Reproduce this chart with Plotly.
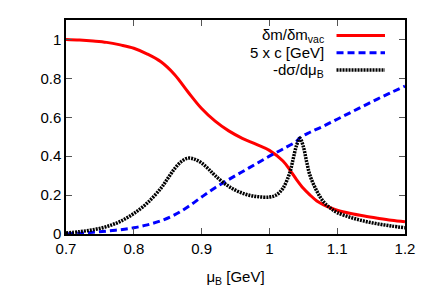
import plotly.graph_objects as go

# mu_B [GeV] grid and the three curves
mu_red = [0.70, 0.72, 0.74, 0.76, 0.78, 0.80, 0.82, 0.84, 0.86, 0.88, 0.90, 0.92,
          0.94, 0.96, 0.98, 1.00, 1.02, 1.03, 1.04, 1.05, 1.06, 1.07, 1.08, 1.09,
          1.10, 1.12, 1.14, 1.16, 1.18, 1.20]
dm_ratio = [1.000, 0.997, 0.992, 0.985, 0.972, 0.955, 0.925, 0.885, 0.820, 0.730,
            0.645, 0.580, 0.530, 0.492, 0.462, 0.430, 0.375, 0.330, 0.280, 0.235,
            0.200, 0.170, 0.150, 0.135, 0.122, 0.105, 0.092, 0.081, 0.071, 0.063]

mu_blue = [0.70, 0.72, 0.74, 0.76, 0.78, 0.80, 0.82, 0.84, 0.86, 0.88, 0.90, 0.92,
           0.94, 0.96, 0.98, 1.00, 1.02, 1.04, 1.045, 1.06, 1.08, 1.10, 1.12, 1.14,
           1.16, 1.18, 1.20]
five_c = [0.000, 0.004, 0.009, 0.015, 0.022, 0.032, 0.047, 0.068, 0.098, 0.140,
          0.190, 0.238, 0.280, 0.320, 0.360, 0.400, 0.437, 0.477, 0.495, 0.523,
          0.555, 0.590, 0.625, 0.660, 0.695, 0.728, 0.760]

mu_black = [0.70, 0.72, 0.74, 0.76, 0.78, 0.80, 0.82, 0.84, 0.85, 0.86, 0.87, 0.88,
            0.89, 0.90, 0.91, 0.92, 0.94, 0.96, 0.98, 1.00, 1.01, 1.02, 1.03, 1.035,
            1.04, 1.045, 1.05, 1.055, 1.06, 1.07, 1.08, 1.09, 1.10, 1.12, 1.14, 1.16,
            1.18, 1.20]
dsigma = [0.005, 0.012, 0.022, 0.038, 0.065, 0.105, 0.160, 0.235, 0.285, 0.335,
          0.372, 0.390, 0.384, 0.365, 0.335, 0.300, 0.245, 0.210, 0.193, 0.190,
          0.200, 0.235, 0.315, 0.385, 0.455, 0.492, 0.450, 0.370, 0.300, 0.220,
          0.165, 0.133, 0.110, 0.085, 0.066, 0.052, 0.041, 0.032]

labels = ["δm/δm<sub>vac</sub>", "5 x c [GeV]", "-dσ/dμ<sub>B</sub>"]
colors = ["#ff0000", "#0000ff", "#000000"]
dashes = ["solid", "7px,4px", "2px,1px"]
widths = [3, 3, 3.5]

fig = go.Figure()
fig.add_trace(go.Scatter(x=mu_red, y=dm_ratio, mode="lines", line_shape="spline",
                         line=dict(color=colors[0], width=widths[0], dash=dashes[0])))
fig.add_trace(go.Scatter(x=mu_blue, y=five_c, mode="lines", line_shape="spline",
                         line=dict(color=colors[1], width=widths[1], dash=dashes[1])))
fig.add_trace(go.Scatter(x=mu_black, y=dsigma, mode="lines", line_shape="spline",
                         line=dict(color=colors[2], width=widths[2], dash=dashes[2])))

# gnuplot-style key: text on the left, line sample on the right
key_y = [0.927, 0.847, 0.766]
for lab, col, dsh, w, ky in zip(labels, colors, dashes, widths, key_y):
    fig.add_annotation(x=0.768, y=ky, xref="paper", yref="paper", text=lab,
                       showarrow=False, xanchor="right", yanchor="middle",
                       font=dict(size=15, color="black"))
    fig.add_shape(type="line", xref="paper", yref="paper", x0=0.798, x1=0.941,
                  y0=ky, y1=ky, line=dict(color=col, width=w, dash=dsh))

axis_common = dict(showgrid=False, zeroline=False, showline=True, mirror="ticks",
                   linecolor="black", linewidth=1.5, ticks="inside", ticklen=6,
                   tickcolor="#555555", tickwidth=1,
                   tickfont=dict(size=15, color="black"))

# page body has an 8px default margin, so shift the plot up/left by that much
fig.update_layout(
    width=436, height=305,
    margin=dict(l=58, r=39, t=12, b=79, autoexpand=False),
    plot_bgcolor="white", paper_bgcolor="white",
    showlegend=False,
    font=dict(family="Liberation Sans, Arial, sans-serif", size=15, color="black"),
    xaxis=dict(range=[0.7, 1.2], tickvals=[0.7, 0.8, 0.9, 1.0, 1.1, 1.2],
               ticktext=["0.7", "0.8", "0.9", "1", "1.1", "1.2"],
               title=dict(text="μ<sub>B</sub> [GeV]", font=dict(size=15), standoff=16),
               **axis_common),
    yaxis=dict(range=[0, 1.1], tickvals=[0, 0.2, 0.4, 0.6, 0.8, 1.0],
               ticktext=["0", "0.2", "0.4", "0.6", "0.8", "1"],
               **axis_common),
)

fig.write_html("out.html")
